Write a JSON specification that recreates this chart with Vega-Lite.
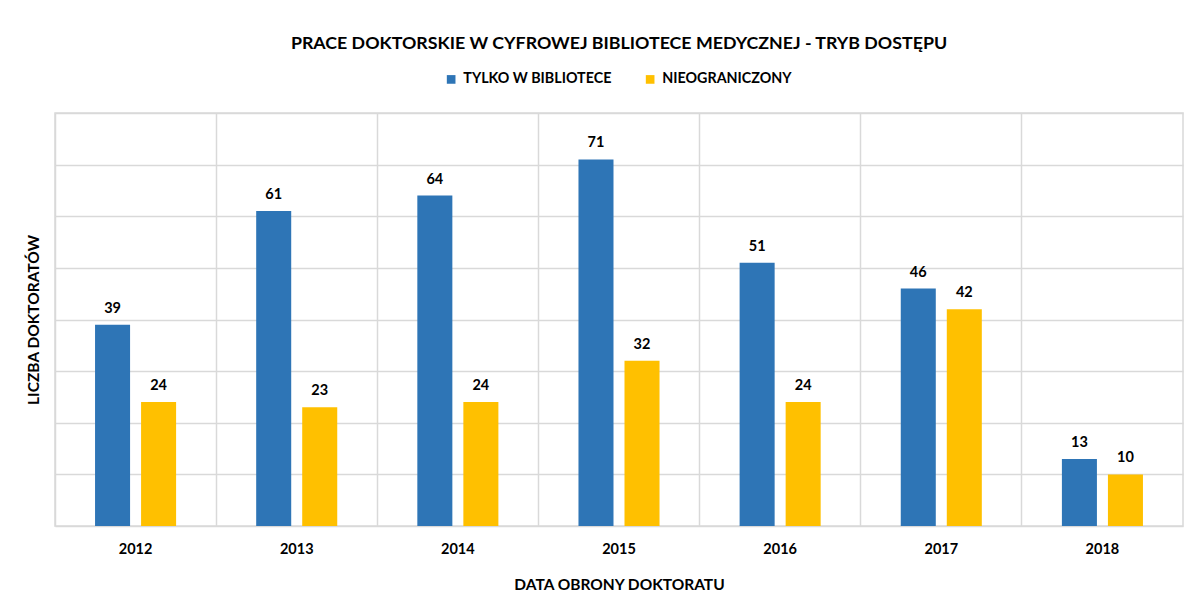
{
  "$schema": "https://vega.github.io/schema/vega-lite/v6.json",
  "width": 1128,
  "height": 413,
  "autosize": "none",
  "padding": {"left": 55, "top": 113, "right": 9, "bottom": 75},
  "background": "white",
  "config": {
    "font": "Lato",
    "view": {"stroke": "#d9d9d9", "strokeWidth": 1.5}
  },
  "title": {
    "text": "PRACE DOKTORSKIE W CYFROWEJ BIBLIOTECE MEDYCZNEJ - TRYB DOSTĘPU",
    "font": "Lato",
    "fontSize": 17.8,
    "fontWeight": "bold",
    "color": "#000000",
    "anchor": "middle",
    "offset": 19
  },
  "data": {
    "values": [
      {"rok": "2012", "tryb": "TYLKO W BIBLIOTECE", "liczba": 39},
      {"rok": "2012", "tryb": "NIEOGRANICZONY", "liczba": 24},
      {"rok": "2013", "tryb": "TYLKO W BIBLIOTECE", "liczba": 61},
      {"rok": "2013", "tryb": "NIEOGRANICZONY", "liczba": 23},
      {"rok": "2014", "tryb": "TYLKO W BIBLIOTECE", "liczba": 64},
      {"rok": "2014", "tryb": "NIEOGRANICZONY", "liczba": 24},
      {"rok": "2015", "tryb": "TYLKO W BIBLIOTECE", "liczba": 71},
      {"rok": "2015", "tryb": "NIEOGRANICZONY", "liczba": 32},
      {"rok": "2016", "tryb": "TYLKO W BIBLIOTECE", "liczba": 51},
      {"rok": "2016", "tryb": "NIEOGRANICZONY", "liczba": 24},
      {"rok": "2017", "tryb": "TYLKO W BIBLIOTECE", "liczba": 46},
      {"rok": "2017", "tryb": "NIEOGRANICZONY", "liczba": 42},
      {"rok": "2018", "tryb": "TYLKO W BIBLIOTECE", "liczba": 13},
      {"rok": "2018", "tryb": "NIEOGRANICZONY", "liczba": 10}
    ]
  },
  "encoding": {
    "x": {
      "field": "rok",
      "type": "nominal",
      "scale": {"paddingInner": 0, "paddingOuter": 0},
      "axis": {
        "title": "DATA OBRONY DOKTORATU",
        "titleFont": "Lato",
        "titleFontSize": 15.5,
        "titleFontWeight": "bold",
        "titleColor": "#000000",
        "titlePadding": 22,
        "labelAngle": 0,
        "labelFont": "Lato",
        "labelFontSize": 14.5,
        "labelFontWeight": "bold",
        "labelColor": "#000000",
        "labelPadding": 16,
        "ticks": false,
        "domain": false,
        "grid": true,
        "bandPosition": 0,
        "gridColor": "#d9d9d9",
        "gridWidth": 1.5
      }
    },
    "xOffset": {
      "field": "tryb",
      "type": "nominal",
      "sort": ["TYLKO W BIBLIOTECE", "NIEOGRANICZONY"],
      "scale": {"paddingInner": 0.239, "paddingOuter": 0.87}
    },
    "y": {
      "field": "liczba",
      "type": "quantitative",
      "scale": {"domain": [0, 80], "nice": false},
      "axis": {
        "title": "LICZBA DOKTORATÓW",
        "titleFont": "Lato",
        "titleFontSize": 15.5,
        "titleFontWeight": "bold",
        "titleColor": "#000000",
        "titlePadding": 14,
        "labels": false,
        "ticks": false,
        "domain": false,
        "values": [0, 10, 20, 30, 40, 50, 60, 70, 80],
        "gridColor": "#d9d9d9",
        "gridWidth": 1.5
      }
    }
  },
  "layer": [
    {
      "mark": {"type": "bar"},
      "encoding": {
        "color": {
          "field": "tryb",
          "type": "nominal",
          "scale": {
            "domain": ["TYLKO W BIBLIOTECE", "NIEOGRANICZONY"],
            "range": ["#2E75B6", "#FFC000"]
          },
          "legend": {
            "title": null,
            "orient": "none",
            "direction": "horizontal",
            "legendX": 389,
            "legendY": -41,
            "symbolType": "square",
            "symbolSize": 75,
            "symbolStrokeWidth": 0,
            "labelFont": "Lato",
            "labelFontSize": 14.3,
            "labelFontWeight": "bold",
            "labelColor": "#000000",
            "columnPadding": 31,
            "labelOffset": 5
          }
        }
      }
    },
    {
      "mark": {
        "type": "text",
        "baseline": "bottom",
        "dy": -9,
        "font": "Lato",
        "fontSize": 14.5,
        "fontWeight": "bold",
        "color": "#000000"
      },
      "encoding": {
        "text": {"field": "liczba", "type": "quantitative"}
      }
    }
  ]
}
